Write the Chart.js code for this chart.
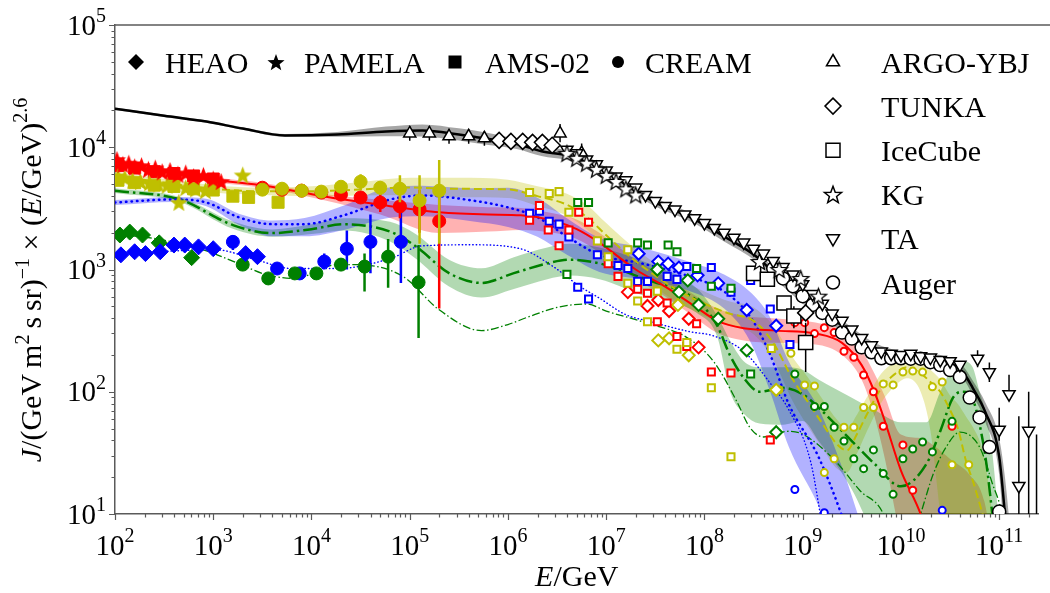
<!DOCTYPE html>
<html>
<head>
<meta charset="utf-8">
<script src="https://cdn.jsdelivr.net/npm/chart.js@4.4.0/dist/chart.umd.min.js"></script>
<style>
    html, body { margin: 0; padding: 0; background: #fff; }
</style>
</head>
<body>
<canvas id="spectrum" width="1050" height="593"></canvas>
<script>
// Values as log10(E/GeV) and log10(J E^2.6)

// Tick decades
const xTickExps = [2, 3, 4, 5, 6, 7, 8, 9, 10, 11];
const yTickExps = [1, 2, 3, 4, 5];

// All-particle model (black) and its band
const blackLogE = [2.0, 2.5, 2.93, 3.3, 3.73, 4.26, 4.76, 5.13, 5.5, 5.76, 6.1, 6.34, 6.6, 6.8, 7.0, 7.2, 7.5, 7.86, 8.2, 8.53, 8.8, 9.06, 9.4, 9.73, 10.0, 10.23, 10.46, 10.63, 10.73, 10.86, 11.0, 11.06, 11.12];
const blackLogJ = [4.315, 4.258, 4.21, 4.153, 4.097, 4.105, 4.129, 4.137, 4.105, 4.073, 4.024, 3.968, 3.935, 3.887, 3.80, 3.694, 3.55, 3.427, 3.27, 3.105, 2.90, 2.726, 2.54, 2.355, 2.29, 2.274, 2.242, 2.161, 2.032, 1.831, 1.468, 0.99, 0.5];
const blackHi = [4.325, 4.268, 4.22, 4.163, 4.109, 4.125, 4.169, 4.187, 4.155, 4.123, 4.064, 4.008, 3.975, 3.927, 3.835, 3.729, 3.585, 3.462, 3.31, 3.145, 2.94, 2.771, 2.585, 2.40, 2.33, 2.314, 2.287, 2.211, 2.092, 1.911, 1.618, 1.29, 0.8];
const blackLo = [4.305, 4.248, 4.20, 4.143, 4.085, 4.085, 4.089, 4.087, 4.055, 4.023, 3.984, 3.928, 3.895, 3.847, 3.765, 3.659, 3.515, 3.392, 3.23, 3.065, 2.86, 2.681, 2.495, 2.31, 2.25, 2.234, 2.197, 2.111, 1.972, 1.751, 1.318, 0.69, 0.2];

// Red model
const redLogE = [2.0, 2.5, 3.0, 3.53, 4.13, 4.7, 5.3, 5.8, 6.13, 6.46, 6.7, 6.93, 7.3, 7.6, 7.9, 8.13, 8.4, 8.73, 9.13, 9.4, 9.6, 9.73, 9.83, 10.0, 10.2, 10.35, 10.5, 10.7, 10.85, 10.95];
const redLogJ = [3.87, 3.80, 3.734, 3.685, 3.597, 3.53, 3.468, 3.45, 3.444, 3.40, 3.33, 3.22, 3.0, 2.86, 2.70, 2.58, 2.52, 2.50, 2.476, 2.40, 2.218, 2.0, 1.774, 1.355, 1.0, 0.6, 0.3, 0.3, 0.3, 0.3];
const redHi = [3.89, 3.82, 3.754, 3.705, 3.617, 3.57, 3.528, 3.51, 3.504, 3.46, 3.41, 3.30, 3.08, 2.94, 2.79, 2.68, 2.62, 2.60, 2.566, 2.50, 2.338, 2.15, 1.974, 1.65, 1.62, 1.55, 1.45, 1.32, 1.1, 0.6];
const redLo = [3.85, 3.78, 3.714, 3.665, 3.567, 3.45, 3.298, 3.31, 3.324, 3.30, 3.25, 3.14, 2.92, 2.78, 2.61, 2.48, 2.42, 2.40, 2.386, 2.30, 2.098, 1.80, 1.474, 0.8, 0.3, 0.3, 0.3, 0.3, 0.3, 0.3];

// Yellow model
const yellowLogE = [2.0, 2.5, 3.0, 3.5, 4.0, 4.5, 5.0, 5.5, 6.0, 6.3, 6.6, 6.8, 7.0, 7.25, 7.5, 7.75, 8.0, 8.25, 8.5, 8.7, 8.9, 9.05, 9.2, 9.35, 9.45, 9.55, 9.65, 9.8, 9.93, 10.06, 10.2, 10.3, 10.4, 10.5, 10.58, 10.66, 10.74, 10.82, 10.9, 10.97];
const yellowLogJ = [3.77, 3.71, 3.66, 3.64, 3.64, 3.655, 3.67, 3.66, 3.655, 3.60, 3.53, 3.43, 3.28, 3.10, 2.95, 2.82, 2.72, 2.64, 2.58, 2.40, 2.10, 1.92, 1.74, 1.57, 1.52, 1.65, 1.81, 2.03, 2.14, 2.2, 2.15, 2.08, 2.0, 1.85, 1.70, 1.44, 1.25, 1.03, 0.8, 0.5];
const yellowHi = [3.80, 3.74, 3.69, 3.67, 3.68, 3.715, 3.75, 3.75, 3.735, 3.68, 3.62, 3.53, 3.38, 3.20, 3.05, 2.92, 2.82, 2.74, 2.69, 2.54, 2.28, 2.12, 1.94, 1.77, 1.70, 1.81, 1.95, 2.15, 2.24, 2.29, 2.25, 2.18, 2.10, 1.97, 1.90, 1.80, 1.70, 1.55, 1.2, 0.6];
const yellowLo = [3.74, 3.68, 3.63, 3.61, 3.60, 3.605, 3.61, 3.59, 3.585, 3.52, 3.44, 3.33, 3.18, 3.00, 2.85, 2.72, 2.62, 2.54, 2.47, 2.26, 1.92, 1.72, 1.54, 1.37, 1.34, 1.49, 1.67, 1.91, 2.04, 2.11, 2.0, 1.68, 1.0, 0.35, 0.2, 0.2, 0.2, 0.2, 0.2, 0.2];

// Green model
const greenLogE = [2.0, 2.66, 3.2, 3.6, 4.0, 4.33, 4.8, 5.06, 5.4, 5.73, 6.06, 6.4, 6.63, 6.93, 7.4, 7.93, 8.13, 8.26, 8.4, 8.56, 8.8, 9.0, 9.16, 9.5, 9.73, 10.0, 10.26, 10.4, 10.53, 10.63, 10.73, 10.8, 10.87, 10.93, 11.0];
const greenLogJ = [3.645, 3.573, 3.363, 3.298, 3.33, 3.37, 3.31, 3.19, 2.97, 2.89, 2.97, 3.05, 3.08, 3.05, 2.92, 2.742, 2.54, 2.298, 2.113, 2.0, 2.032, 1.98, 1.871, 1.597, 1.411, 1.226, 1.411, 1.677, 1.952, 2.0, 1.94, 1.734, 1.41, 1.0, 0.5];
const greenHi = [3.665, 3.593, 3.393, 3.328, 3.37, 3.42, 3.39, 3.29, 3.08, 3.01, 3.10, 3.18, 3.21, 3.18, 3.06, 2.84, 2.62, 2.42, 2.25, 2.2, 2.2, 2.18, 2.1, 1.95, 1.85, 1.75, 1.75, 2.0, 2.2, 2.25, 2.2, 2.0, 1.8, 1.5, 0.9];
const greenLo = [3.625, 3.553, 3.333, 3.268, 3.29, 3.32, 3.23, 3.09, 2.86, 2.77, 2.84, 2.92, 2.95, 2.92, 2.78, 2.64, 2.45, 2.0, 1.82, 1.74, 1.73, 1.76, 1.6, 1.2, 0.8, 0.3, 0.3, 0.5, 0.5, 0.5, 0.5, 0.5, 0.3, 0.3, 0.3];

// Blue model
const blueLogE = [2.0, 2.6, 2.93, 3.26, 3.6, 3.93, 4.33, 4.8, 5.13, 5.63, 6.0, 6.3, 6.6, 6.93, 7.36, 7.86, 8.2, 8.46, 8.66, 8.86, 9.16, 9.4, 9.6];
const blueLogJ = [3.548, 3.573, 3.548, 3.427, 3.371, 3.371, 3.444, 3.573, 3.605, 3.565, 3.508, 3.427, 3.27, 3.12, 3.05, 2.94, 2.82, 2.62, 2.32, 1.895, 1.468, 0.984, 0.5];
const blueHi = [3.568, 3.593, 3.578, 3.457, 3.401, 3.421, 3.524, 3.673, 3.685, 3.665, 3.668, 3.587, 3.42, 3.26, 3.18, 3.06, 2.96, 2.82, 2.62, 2.245, 1.868, 1.384, 0.9];
const blueLo = [3.528, 3.553, 3.518, 3.367, 3.271, 3.271, 3.324, 3.423, 3.435, 3.395, 3.348, 3.267, 3.12, 2.98, 2.92, 2.82, 2.68, 2.42, 2.02, 1.545, 1.068, 0.584, 0.1];

// Thin lines without band
const blueThinLogE = [2.0, 3.03, 3.43, 3.8, 4.26, 4.8, 5.13, 5.63, 6.13, 6.46, 6.73, 6.93, 7.2, 7.42, 7.86, 8.08, 8.4, 8.66, 8.86, 9.08, 9.2];
const blueThinLogJ = [3.129, 3.161, 3.081, 3.008, 3.008, 3.089, 3.194, 3.202, 3.169, 3.024, 2.863, 2.766, 2.63, 2.58, 2.49, 2.46, 2.33, 2.08, 1.85, 1.43, 0.9];
const greenThinLogE = [2.0, 2.43, 2.9, 3.26, 3.53, 3.83, 4.26, 4.46, 4.93, 5.3, 5.73, 6.0, 6.2, 6.5, 6.8, 7.0, 7.42, 7.83, 8.1, 8.33, 8.46, 8.6, 8.86, 9.0, 9.33, 9.58, 9.83, 10.0, 10.2, 10.33, 10.46, 10.6, 10.8, 10.93, 11.03, 11.1];
const greenThinLogJ = [3.29, 3.25, 3.161, 3.048, 2.96, 2.927, 3.04, 3.04, 2.944, 2.67, 2.5, 2.55, 2.61, 2.69, 2.718, 2.66, 2.56, 2.44, 2.24, 1.919, 1.71, 1.63, 1.677, 1.653, 1.435, 1.194, 0.984, 0.5, 1.0, 1.33, 1.548, 1.67, 1.548, 1.25, 0.98, 0.5];

// HEAO (filled diamonds)
const heaoGreenLogE = [2.05, 2.15, 2.28, 2.45, 2.78];
const heaoGreenLogJ = [3.282, 3.306, 3.282, 3.218, 3.097];
const heaoBlueLogE = [2.06, 2.2, 2.31, 2.46, 2.6, 2.71, 2.85, 3.0, 3.33, 3.45];
const heaoBlueLogJ = [3.12, 3.145, 3.13, 3.145, 3.2, 3.2, 3.185, 3.17, 3.13, 3.105];

// PAMELA (filled stars)
const pamelaRedLogE = [2.02, 2.08, 2.14, 2.2, 2.27, 2.34, 2.41, 2.48, 2.56, 2.64, 2.72, 2.8, 2.9, 3.0, 3.08];
const pamelaRedLogJ = [3.90, 3.86, 3.87, 3.84, 3.85, 3.82, 3.83, 3.80, 3.81, 3.78, 3.79, 3.76, 3.77, 3.74, 3.72];
const pamelaYellowLogE = [2.03, 2.1, 2.18, 2.26, 2.35, 2.44, 2.53, 2.65, 2.72, 2.82, 2.92, 3.3];
const pamelaYellowLogJ = [3.76, 3.75, 3.73, 3.72, 3.71, 3.70, 3.69, 3.55, 3.67, 3.66, 3.645, 3.774];

// AMS-02 (filled squares)
const amsRedLogE = [2.03, 2.2, 2.4, 2.6, 2.8, 3.0];
const amsRedLogJ = [3.85, 3.83, 3.80, 3.785, 3.765, 3.74];
const amsYellowLogE = [2.03, 2.2, 2.4, 2.6, 2.8, 3.0, 3.2, 3.36, 3.66];
const amsYellowLogJ = [3.73, 3.71, 3.69, 3.68, 3.66, 3.65, 3.6, 3.59, 3.55];

// CREAM (filled circles with error bars)
const creamRedLogE = [3.5, 3.7, 3.9, 4.1, 4.3, 4.5, 4.7, 4.9, 5.1, 5.3];
const creamRedLogJ = [3.669, 3.653, 3.645, 3.629, 3.613, 3.589, 3.548, 3.516, 3.492, 3.395];
const creamRedHi = [3.69, 3.675, 3.67, 3.655, 3.64, 3.625, 3.62, 3.6, 3.65, 3.59];
const creamRedLo = [3.65, 3.63, 3.62, 3.6, 3.585, 3.55, 3.47, 3.42, 3.3, 2.68];
const creamYellowLogE = [3.5, 3.7, 3.9, 4.1, 4.3, 4.5, 4.7, 4.9, 5.1, 5.3];
const creamYellowLogJ = [3.653, 3.661, 3.645, 3.637, 3.677, 3.718, 3.669, 3.661, 3.565, 3.645];
const creamYellowHi = [3.67, 3.68, 3.665, 3.66, 3.71, 3.78, 3.72, 3.77, 3.77, 3.895];
const creamYellowLo = [3.635, 3.64, 3.625, 3.61, 3.64, 3.65, 3.61, 3.55, 3.21, 3.21];
const creamGreenLogE = [3.3, 3.56, 3.83, 4.05, 4.3, 4.54, 4.78, 5.09];
const creamGreenLogJ = [3.04, 2.927, 2.968, 2.968, 3.04, 3.024, 3.105, 2.895];
const creamGreenHi = [3.07, 2.95, 2.995, 3.0, 3.08, 3.13, 3.25, 3.2];
const creamGreenLo = [3.01, 2.9, 2.94, 2.935, 2.99, 2.82, 2.85, 2.44];
const creamBlueLogE = [3.2, 3.65, 3.88, 4.13, 4.36, 4.6, 4.91];
const creamBlueLogJ = [3.226, 3.008, 2.968, 3.065, 3.169, 3.226, 3.226];
const creamBlueHi = [3.28, 3.04, 3.0, 3.13, 3.32, 3.45, 3.51];
const creamBlueLo = [3.16, 2.97, 2.92, 3.0, 3.0, 2.97, 2.89];

// All-particle data (open black markers)
const argoLogE = [5.0, 5.2, 5.4, 5.6, 5.76, 6.53, 6.75];
const argoLogJ = [4.113, 4.113, 4.089, 4.089, 4.073, 4.113, 3.952];
const argoHi = [4.173, 4.173, 4.149, 4.149, 4.133, 4.19, 4.03];
const argoLo = [4.053, 4.053, 4.029, 4.029, 4.013, 4.04, 3.88];
const tunkaLogE = [5.91, 6.03, 6.15, 6.25, 6.35, 6.45, 9.03];
const tunkaLogJ = [4.056, 4.048, 4.048, 4.04, 4.04, 4.016, 2.645];
const iceLogE = [8.5, 8.64, 8.81, 8.91, 9.03];
const iceLogJ = [2.968, 2.92, 2.726, 2.62, 2.403];
const iceHi = [3.0, 2.96, 2.77, 2.7, 2.565];
const iceLo = [2.93, 2.88, 2.68, 2.52, 2.161];
const kgLogE = [6.6, 6.7, 6.8, 6.9, 7.0, 7.1, 7.2, 7.3, 8.56, 8.76, 8.98, 9.16];
const kgLogJ = [3.95, 3.91, 3.87, 3.82, 3.77, 3.72, 3.66, 3.61, 3.065, 3.0, 2.927, 2.782];
const taLogE = [6.6, 6.7, 6.8, 6.9, 7.0, 7.1, 7.2, 7.3, 7.4, 7.5, 7.6, 7.7, 7.8, 7.9, 8.0, 8.1, 8.2, 8.3, 8.4, 8.5, 8.6, 8.7, 8.8, 8.9, 9.0, 9.1, 9.2, 9.3, 9.4, 9.5, 9.6, 9.7, 9.8, 9.9, 10.0, 10.1, 10.2, 10.3, 10.4, 10.5, 10.6];
const taLogJ = [3.98, 3.95, 3.90, 3.86, 3.81, 3.76, 3.73, 3.67, 3.61, 3.56, 3.52, 3.49, 3.45, 3.42, 3.38, 3.34, 3.30, 3.26, 3.22, 3.17, 3.13, 3.07, 3.02, 2.96, 2.88, 2.80, 2.72, 2.64, 2.58, 2.51, 2.44, 2.38, 2.33, 2.31, 2.30, 2.31, 2.29, 2.28, 2.26, 2.25, 2.22];
const taHighLogE = [10.78, 10.9, 11.0, 11.1, 11.2, 11.3, 11.38];
const taHighLogJ = [2.27, 2.16, 1.69, 1.98, 1.23, 1.68, 0.6];
const taHighHi = [2.34, 2.24, 1.87, 2.14, 1.8, 2.0, 1.65];
const taHighLo = [2.2, 2.08, 1.6, 1.95, 0.5, 0.5, 0.5];
const augerLogE = [8.7, 8.8, 8.9, 9.0, 9.1, 9.2, 9.3, 9.4, 9.5, 9.6, 9.7, 9.8, 9.9, 10.0, 10.1, 10.2, 10.3, 10.4, 10.5, 10.6, 10.7, 10.8, 10.9, 11.0];
const augerLogJ = [3.008, 2.927, 2.863, 2.782, 2.71, 2.645, 2.589, 2.484, 2.435, 2.363, 2.323, 2.274, 2.274, 2.274, 2.27, 2.27, 2.242, 2.218, 2.177, 2.121, 1.952, 1.79, 1.548, 1.02];

// Composition data (open coloured markers)
const iceRedLogE = [6.22, 6.32, 6.41, 6.52, 6.62, 6.72, 6.82, 7.02, 7.12, 7.32, 7.42, 7.52, 7.62, 7.72, 7.82, 7.92, 8.07, 8.27, 8.67];
const iceRedLogJ = [3.403, 3.524, 3.323, 3.194, 3.323, 3.468, 3.387, 3.048, 2.944, 2.839, 2.806, 2.573, 2.726, 2.452, 2.371, 2.556, 2.161, 2.153, 1.605];
const iceYellowLogE = [6.22, 6.42, 6.52, 6.62, 6.91, 7.02, 7.22, 7.22, 7.32, 7.42, 7.52, 7.72, 7.82, 8.07, 8.27, 8.68];
const iceYellowLogJ = [3.63, 3.621, 3.637, 3.468, 3.234, 3.105, 3.161, 2.887, 2.742, 2.573, 2.823, 2.347, 2.403, 2.032, 1.468, 2.355];
const iceGreenLogE = [6.6, 6.71, 6.82, 7.02, 7.32, 7.42, 7.63, 7.72, 7.92, 8.07, 8.27, 8.47];
const iceGreenLogJ = [2.96, 3.548, 3.548, 3.218, 3.218, 3.2, 3.2, 3.145, 3.008, 2.863, 2.847, 2.145];
const iceBlueLogE = [6.22, 6.32, 6.42, 6.52, 6.62, 6.71, 6.82, 6.91, 7.12, 7.22, 7.32, 7.42, 7.62, 7.72, 7.82, 7.92, 8.07, 8.27, 8.47, 8.67, 8.87];
const iceBlueLogJ = [3.46, 3.476, 3.395, 3.371, 3.266, 2.855, 2.758, 3.121, 3.032, 3.008, 2.903, 2.903, 2.944, 2.919, 3.024, 3.0, 3.016, 2.815, 2.911, 2.677, 2.387];

const tunkaRedLogE = [7.22, 7.42, 7.53, 7.64, 7.84, 7.94];
const tunkaRedLogJ = [2.815, 2.702, 2.75, 2.66, 2.597, 2.363];
const tunkaYellowLogE = [7.53, 7.64, 7.73, 7.84, 8.73];
const tunkaYellowLogJ = [2.42, 2.437, 2.71, 2.298, 2.016];
const tunkaGreenLogE = [7.52, 7.74, 7.83, 7.94, 8.14, 8.43, 8.73];
const tunkaGreenLogJ = [3.0, 2.815, 2.911, 2.71, 2.597, 2.339, 1.669];
const tunkaBlueLogE = [7.33, 7.53, 7.63, 7.74, 7.93, 8.14, 8.43, 8.73];
const tunkaBlueLogJ = [3.129, 3.065, 3.048, 3.016, 2.952, 2.887, 2.669, 2.54];

const augerRedLogE = [8.92, 9.02, 9.12, 9.22, 9.32, 9.42, 9.52, 9.62, 9.72, 9.82, 10.02, 10.12, 10.52];
const augerRedLogJ = [2.565, 2.565, 2.476, 2.524, 2.484, 2.331, 2.282, 2.137, 2.0, 1.718, 1.565, 1.194, 1.718];
const augerYellowLogE = [8.76, 8.88, 9.02, 9.12, 9.22, 9.32, 9.42, 9.52, 9.62, 9.72, 9.82, 9.92, 10.02, 10.12, 10.22, 10.32, 10.42, 10.52, 10.69];
const augerYellowLogJ = [2.016, 2.315, 2.056, 2.048, 1.339, 1.452, 1.71, 1.71, 1.871, 1.871, 2.064, 2.056, 2.161, 2.169, 2.161, 2.04, 2.08, 1.403, 1.403];
const augerGreenLogE = [8.92, 9.12, 9.22, 9.32, 9.42, 9.52, 9.62, 9.72, 9.82, 9.92, 10.02, 10.12, 10.22, 10.32, 10.52, 10.72];
const augerGreenLogJ = [2.145, 1.879, 1.879, 1.71, 1.597, 1.452, 1.371, 1.524, 1.331, 1.161, 1.452, 1.532, 1.589, 1.508, 1.758, 1.952];
const augerBlueLogE = [8.92, 9.22, 10.42];
const augerBlueLogJ = [1.2, 1.01, 1.03];

const legendTopLabels = ["HEAO", "PAMELA", "AMS-02", "CREAM"];
const legendRightLabels = ["ARGO-YBJ", "TUNKA", "IceCube", "KG", "TA", "Auger"];

// Colours
const RED = "#ff0000";
const YEL = "#bfbf00";
const GRN = "#008000";
const BLU = "#0000ff";
const BLK = "#000000";
const AXIS = "#5a5a5a";
const SERIF = '"Liberation Serif", "Times New Roman", serif';

const toPoints = (logE, logJ) => logE.map((e, i) => ({ x: Math.pow(10, e), y: Math.pow(10, logJ[i]) }));

// Star marker as an image, Chart.js' own "star" is an asterisk
function starImage(size, fill, stroke, lw) {
    const c = document.createElement("canvas");
    c.width = c.height = size + 4;
    const g = c.getContext("2d");
    const cx = c.width / 2;
    const cy = c.height / 2 + size * 0.05;
    g.beginPath();
    starPath(g, cx, cy, size / 2);
    g.fillStyle = fill;
    g.fill();
    if (stroke) {
        g.lineWidth = lw;
        g.strokeStyle = stroke;
        g.stroke();
    }
    return c;
}

function starPath(g, cx, cy, R) {
    const r = R * 0.42;
    for (let i = 0; i < 10; i++) {
        const a = -Math.PI / 2 + i * Math.PI / 5;
        const rad = i % 2 ? r : R;
        g.lineTo(cx + rad * Math.cos(a), cy + rad * Math.sin(a));
    }
    g.closePath();
}

const datasets = [];

function addBand(logE, hi, lo, color) {
    const common = { borderWidth: 0, borderColor: "transparent", pointRadius: 0, cubicInterpolationMode: "monotone", order: 30 };
    datasets.push(Object.assign({ data: toPoints(logE, hi), fill: false }, common));
    datasets.push(Object.assign({ data: toPoints(logE, lo), fill: "-1", backgroundColor: color }, common));
}

function addCurve(logE, logJ, color, width, dash, cap) {
    datasets.push({
        data: toPoints(logE, logJ),
        borderColor: color,
        borderWidth: width,
        borderDash: dash,
        borderCapStyle: cap || "butt",
        pointRadius: 0,
        fill: false,
        cubicInterpolationMode: "monotone",
        order: 20
    });
}

function addMarkers(logE, logJ, style, extra) {
    datasets.push(Object.assign({
        data: toPoints(logE, logJ),
        showLine: false,
        pointStyle: style,
        pointRadius: 5,
        pointBorderWidth: 2,
        pointBackgroundColor: "#fff",
        order: 10
    }, extra));
}

// Bands
addBand(blackLogE, blackHi, blackLo, "rgba(0, 0, 0, 0.35)");
addBand(blueLogE, blueHi, blueLo, "rgba(0, 0, 255, 0.3)");
addBand(greenLogE, greenHi, greenLo, "rgba(0, 128, 0, 0.3)");
addBand(yellowLogE, yellowHi, yellowLo, "rgba(191, 191, 0, 0.3)");
addBand(redLogE, redHi, redLo, "rgba(255, 0, 0, 0.3)");

// Model curves
addCurve(blackLogE, blackLogJ, BLK, 2.5, []);
addCurve(redLogE, redLogJ, RED, 2, []);
addCurve(yellowLogE, yellowLogJ, YEL, 2, [8, 4]);
addCurve(blueLogE, blueLogJ, BLU, 2.5, [0.5, 5], "round");
addCurve(greenLogE, greenLogJ, GRN, 2.5, [14, 4, 2.5, 4]);
addCurve(blueThinLogE, blueThinLogJ, BLU, 1.4, [0.5, 3], "round");
addCurve(greenThinLogE, greenThinLogJ, GRN, 1.3, [8, 2.5, 1.5, 2.5]);

// Low energy filled markers
const filled = (color) => ({ pointBackgroundColor: color, pointBorderColor: color, pointBorderWidth: 1 });
addMarkers(amsRedLogE, amsRedLogJ, "rect", Object.assign(filled(RED), { pointRadius: 8.5, order: 8 }));
addMarkers(amsYellowLogE, amsYellowLogJ, "rect", Object.assign(filled(YEL), { pointRadius: 8.5, order: 7 }));
addMarkers(pamelaYellowLogE, pamelaYellowLogJ, starImage(19, YEL), { pointRadius: 8, order: 7 });
addMarkers(pamelaRedLogE, pamelaRedLogJ, starImage(19, RED), { pointRadius: 8, order: 6 });
addMarkers(heaoGreenLogE, heaoGreenLogJ, "rectRot", Object.assign(filled(GRN), { pointRadius: 8, order: 7 }));
addMarkers(heaoBlueLogE, heaoBlueLogJ, "rectRot", Object.assign(filled(BLU), { pointRadius: 8, order: 6 }));

const cream = (color, hi, lo) => Object.assign(filled(color), { pointStyle: "circle", pointRadius: 6.5, errHi: hi, errLo: lo, errColor: color, errWidth: 2.5, order: 6 });
addMarkers(creamYellowLogE, creamYellowLogJ, "circle", cream(YEL, creamYellowHi, creamYellowLo));
addMarkers(creamRedLogE, creamRedLogJ, "circle", cream(RED, creamRedHi, creamRedLo));
addMarkers(creamGreenLogE, creamGreenLogJ, "circle", cream(GRN, creamGreenHi, creamGreenLo));
addMarkers(creamBlueLogE, creamBlueLogJ, "circle", cream(BLU, creamBlueHi, creamBlueLo));

// Composition open markers
const open = (color) => ({ pointBorderColor: color, pointBackgroundColor: "#fff", pointBorderWidth: 2 });
addMarkers(iceYellowLogE, iceYellowLogJ, "rect", Object.assign(open(YEL), { pointRadius: 5 }));
addMarkers(iceGreenLogE, iceGreenLogJ, "rect", Object.assign(open(GRN), { pointRadius: 5 }));
addMarkers(iceRedLogE, iceRedLogJ, "rect", Object.assign(open(RED), { pointRadius: 5 }));
addMarkers(iceBlueLogE, iceBlueLogJ, "rect", Object.assign(open(BLU), { pointRadius: 5 }));
addMarkers(tunkaYellowLogE, tunkaYellowLogJ, "rectRot", Object.assign(open(YEL), { pointRadius: 6 }));
addMarkers(tunkaRedLogE, tunkaRedLogJ, "rectRot", Object.assign(open(RED), { pointRadius: 6 }));
addMarkers(tunkaGreenLogE, tunkaGreenLogJ, "rectRot", Object.assign(open(GRN), { pointRadius: 6 }));
addMarkers(tunkaBlueLogE, tunkaBlueLogJ, "rectRot", Object.assign(open(BLU), { pointRadius: 6 }));
addMarkers(augerYellowLogE, augerYellowLogJ, "circle", Object.assign(open(YEL), { pointRadius: 3.5 }));
addMarkers(augerGreenLogE, augerGreenLogJ, "circle", Object.assign(open(GRN), { pointRadius: 3.5 }));
addMarkers(augerRedLogE, augerRedLogJ, "circle", Object.assign(open(RED), { pointRadius: 3.5 }));
addMarkers(augerBlueLogE, augerBlueLogJ, "circle", Object.assign(open(BLU), { pointRadius: 3.5 }));

// All-particle open black markers
const openBlack = Object.assign(open(BLK), { pointBorderWidth: 1.5, order: 4 });
addMarkers(kgLogE, kgLogJ, starImage(17, "#fff", BLK, 1.3), Object.assign({}, openBlack, { pointRadius: 8 }));
addMarkers(taLogE, taLogJ, "triangle", Object.assign({}, openBlack, { pointRadius: 7, pointRotation: 180 }));
addMarkers(taHighLogE, taHighLogJ, "triangle", Object.assign({}, openBlack, { pointRadius: 7, pointRotation: 180, errHi: taHighHi, errLo: taHighLo, errColor: BLK, errWidth: 1.5 }));
addMarkers(argoLogE, argoLogJ, "triangle", Object.assign({}, openBlack, { pointRadius: 7, errHi: argoHi, errLo: argoLo, errColor: BLK, errWidth: 1.5 }));
addMarkers(tunkaLogE, tunkaLogJ, "rectRot", Object.assign({}, openBlack, { pointRadius: 8 }));
addMarkers(iceLogE, iceLogJ, "rect", Object.assign({}, openBlack, { pointRadius: 10, errHi: iceHi, errLo: iceLo, errColor: BLK, errWidth: 1.5 }));
addMarkers(augerLogE, augerLogJ, "circle", Object.assign({}, openBlack, { pointRadius: 6.5 }));

// Vertical error bars, drawn under each dataset's markers
const errorBars = {
    id: "errorBars",
    beforeDatasetDraw(chart, args) {
        const ds = chart.data.datasets[args.index];
        if (!ds.errHi) return;
        const { ctx, chartArea: a, scales } = chart;
        ctx.save();
        ctx.beginPath();
        ctx.rect(a.left, a.top, a.right - a.left, a.bottom - a.top);
        ctx.clip();
        ctx.strokeStyle = ds.errColor;
        ctx.lineWidth = ds.errWidth;
        ds.data.forEach((p, i) => {
            const x = scales.x.getPixelForValue(p.x);
            ctx.beginPath();
            ctx.moveTo(x, scales.y.getPixelForValue(Math.pow(10, ds.errHi[i])));
            ctx.lineTo(x, scales.y.getPixelForValue(Math.pow(10, ds.errLo[i])));
            ctx.stroke();
        });
        ctx.restore();
    }
};

function markerPath(ctx, shape, x, y, s) {
    ctx.beginPath();
    if (shape === "diamond") {
        ctx.moveTo(x, y - s); ctx.lineTo(x + s, y); ctx.lineTo(x, y + s); ctx.lineTo(x - s, y); ctx.closePath();
    } else if (shape === "square") {
        ctx.rect(x - s, y - s, 2 * s, 2 * s);
    } else if (shape === "circle") {
        ctx.arc(x, y, s, 0, Math.PI * 2);
    } else if (shape === "triUp") {
        ctx.moveTo(x, y - s); ctx.lineTo(x + s * 0.87, y + s * 0.5); ctx.lineTo(x - s * 0.87, y + s * 0.5); ctx.closePath();
    } else if (shape === "triDown") {
        ctx.moveTo(x, y + s); ctx.lineTo(x + s * 0.87, y - s * 0.5); ctx.lineTo(x - s * 0.87, y - s * 0.5); ctx.closePath();
    } else if (shape === "star") {
        starPath(ctx, x, y + 1, s);
    }
}

// Sequential text with superscripts
function drawMath(ctx, parts, x, y, align) {
    let total = 0;
    parts.forEach(p => { ctx.font = p.f; total += ctx.measureText(p.t).width; });
    let cx = align === "center" ? x - total / 2 : x;
    parts.forEach(p => {
        ctx.font = p.f;
        ctx.fillText(p.t, cx, y + (p.dy || 0));
        cx += ctx.measureText(p.t).width;
    });
}

const decorations = {
    id: "decorations",
    afterDraw(chart) {
        const { ctx, chartArea: a, scales: { x, y } } = chart;
        const REG = "30px " + SERIF;
        const ITA = "italic 30px " + SERIF;
        const TICK = "29px " + SERIF;
        const SUP = "20px " + SERIF;

        ctx.save();
        ctx.strokeStyle = AXIS;
        ctx.lineWidth = 1.5;
        ctx.beginPath();
        ctx.moveTo(a.left, a.top);
        ctx.lineTo(chart.width, a.top);
        ctx.stroke();

        // tick marks
        ctx.lineWidth = 1.2;
        ctx.beginPath();
        for (let d = xTickExps[0]; d <= xTickExps[xTickExps.length - 1]; d++) {
            for (let m = 1; m <= 9; m++) {
                const v = m * Math.pow(10, d);
                if (v > x.max) break;
                const px = Math.round(x.getPixelForValue(v)) + 0.5;
                ctx.moveTo(px, a.bottom);
                ctx.lineTo(px, a.bottom + (m === 1 ? 6 : 3.5));
            }
        }
        for (let d = yTickExps[0]; d < yTickExps[yTickExps.length - 1]; d++) {
            for (let m = 1; m <= 9; m++) {
                const py = Math.round(y.getPixelForValue(m * Math.pow(10, d))) + 0.5;
                ctx.moveTo(a.left, py);
                ctx.lineTo(a.left - (m === 1 ? 6 : 3.5), py);
            }
        }
        const pyTop = Math.round(y.getPixelForValue(Math.pow(10, yTickExps[yTickExps.length - 1]))) + 0.5;
        ctx.moveTo(a.left, pyTop);
        ctx.lineTo(a.left - 6, pyTop);
        ctx.stroke();

        // tick labels
        ctx.fillStyle = "#000";
        ctx.textBaseline = "alphabetic";
        ctx.textAlign = "left";
        xTickExps.forEach(e => {
            const px = x.getPixelForValue(Math.pow(10, e));
            drawMath(ctx, [{ t: "10", f: TICK }, { t: String(e), f: SUP, dy: -13 }], px, 555, "center");
        });
        yTickExps.forEach(e => {
            const py = y.getPixelForValue(Math.pow(10, e));
            ctx.font = SUP;
            const ew = ctx.measureText(String(e)).width;
            ctx.font = TICK;
            const mw = ctx.measureText("10").width;
            const right = a.left - 9;
            ctx.fillText("10", right - ew - mw, py + 9.5);
            ctx.font = SUP;
            ctx.fillText(String(e), right - ew, py - 3);
        });

        // axis titles
        drawMath(ctx, [{ t: "E", f: ITA }, { t: "/GeV", f: REG }], (a.left + a.right) / 2, 586, "center");
        ctx.save();
        ctx.translate(41, 280);
        ctx.rotate(-Math.PI / 2);
        drawMath(ctx, [
            { t: "J", f: ITA },
            { t: "/(GeV\u2009m", f: REG },
            { t: "2", f: SUP, dy: -12 },
            { t: "\u2009s\u2009sr)", f: REG },
            { t: "\u22121", f: SUP, dy: -12 },
            { t: " \u00d7 (", f: REG },
            { t: "E", f: ITA },
            { t: "/GeV)", f: REG },
            { t: "2.6", f: SUP, dy: -14 }
        ], 0, 0, "center");
        ctx.restore();

        // legend, top left (filled markers)
        const topShapes = [["diamond", 136, 8], ["star", 276, 9], ["square", 455, 6.5], ["circle", 618, 6]];
        const topText = [165, 304, 485, 645];
        ctx.font = REG;
        legendTopLabels.forEach((label, i) => {
            const [shape, mx, s] = topShapes[i];
            markerPath(ctx, shape, mx, 62, s);
            ctx.fillStyle = "#000";
            ctx.fill();
            ctx.fillText(label, topText[i], 73);
        });

        // legend, right column (open markers)
        const rightShapes = [["triUp", 7.5], ["diamond", 8], ["square", 7], ["star", 9], ["triDown", 7.5], ["circle", 6.5]];
        legendRightLabels.forEach((label, i) => {
            const cy = 62 + i * 44.1;
            const [shape, s] = rightShapes[i];
            markerPath(ctx, shape, 833, cy, s);
            ctx.fillStyle = "#fff";
            ctx.fill();
            ctx.lineWidth = 1.5;
            ctx.strokeStyle = "#000";
            ctx.stroke();
            ctx.fillStyle = "#000";
            ctx.font = REG;
            ctx.fillText(label, 881, cy + 11);
        });
        ctx.restore();
    }
};

new Chart(document.getElementById("spectrum"), {
    type: "line",
    data: { datasets: datasets },
    options: {
        responsive: false,
        animation: false,
        events: [],
        layout: { padding: { left: 107, top: 25, right: 2, bottom: 71 } },
        plugins: {
            legend: { display: false },
            tooltip: { enabled: false },
            filler: { propagate: false }
        },
        scales: {
            x: {
                type: "logarithmic",
                min: 1e2,
                max: Math.pow(10, 11.4),
                grid: { display: false },
                ticks: { display: false },
                border: { display: true, color: AXIS, width: 1.5 }
            },
            y: {
                type: "logarithmic",
                min: 1e1,
                max: 1e5,
                grid: { display: false },
                ticks: { display: false },
                border: { display: true, color: AXIS, width: 1.5 }
            }
        }
    },
    plugins: [errorBars, decorations]
});
</script>
</body>
</html>
